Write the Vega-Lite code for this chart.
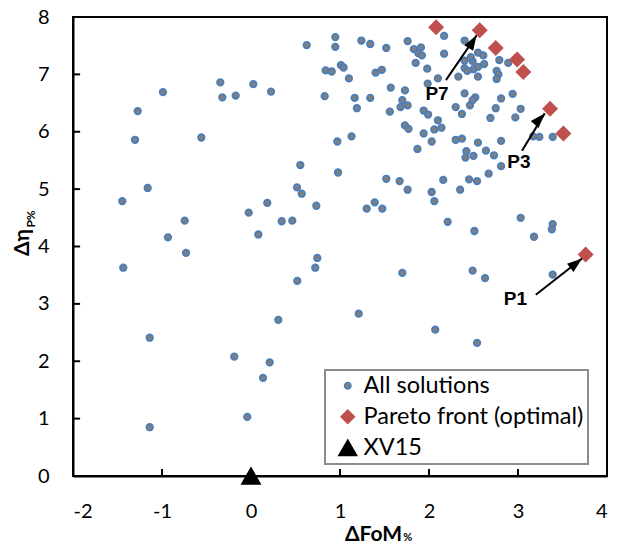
{
  "$schema": "https://vega.github.io/schema/vega-lite/v6.json",
  "width": 534,
  "height": 459,
  "autosize": "none",
  "padding": {"left": 73, "top": 17, "right": 11, "bottom": 68},
  "background": "white",
  "datasets": {
    "solutions": [
      {"series": "All solutions", "fom": 0.626, "eta": 7.51},
      {"series": "All solutions", "fom": 0.947, "eta": 7.65},
      {"series": "All solutions", "fom": 0.947, "eta": 7.48},
      {"series": "All solutions", "fom": 1.01, "eta": 7.16},
      {"series": "All solutions", "fom": -0.345, "eta": 6.86},
      {"series": "All solutions", "fom": -0.989, "eta": 6.69},
      {"series": "All solutions", "fom": 0.026, "eta": 6.83},
      {"series": "All solutions", "fom": -0.322, "eta": 6.6},
      {"series": "All solutions", "fom": -0.172, "eta": 6.63},
      {"series": "All solutions", "fom": 0.225, "eta": 6.7},
      {"series": "All solutions", "fom": 0.839, "eta": 7.07},
      {"series": "All solutions", "fom": 0.907, "eta": 7.05},
      {"series": "All solutions", "fom": 0.828, "eta": 6.62},
      {"series": "All solutions", "fom": -1.273, "eta": 6.36},
      {"series": "All solutions", "fom": -1.303, "eta": 5.86},
      {"series": "All solutions", "fom": -0.558, "eta": 5.9},
      {"series": "All solutions", "fom": 0.97, "eta": 5.83},
      {"series": "All solutions", "fom": 0.554, "eta": 5.42},
      {"series": "All solutions", "fom": 0.978, "eta": 5.29},
      {"series": "All solutions", "fom": -1.161, "eta": 5.02},
      {"series": "All solutions", "fom": 0.517, "eta": 5.03},
      {"series": "All solutions", "fom": 0.57, "eta": 4.92},
      {"series": "All solutions", "fom": -1.446, "eta": 4.79},
      {"series": "All solutions", "fom": 0.183, "eta": 4.76},
      {"series": "All solutions", "fom": 0.734, "eta": 4.71},
      {"series": "All solutions", "fom": -0.026, "eta": 4.59},
      {"series": "All solutions", "fom": 0.345, "eta": 4.44},
      {"series": "All solutions", "fom": 0.464, "eta": 4.45},
      {"series": "All solutions", "fom": -0.745, "eta": 4.45},
      {"series": "All solutions", "fom": 0.082, "eta": 4.21},
      {"series": "All solutions", "fom": -0.933, "eta": 4.16},
      {"series": "All solutions", "fom": -0.73, "eta": 3.89},
      {"series": "All solutions", "fom": -1.435, "eta": 3.63},
      {"series": "All solutions", "fom": 0.745, "eta": 3.8},
      {"series": "All solutions", "fom": 0.722, "eta": 3.63},
      {"series": "All solutions", "fom": 0.52, "eta": 3.4},
      {"series": "All solutions", "fom": 0.307, "eta": 2.72},
      {"series": "All solutions", "fom": -1.138, "eta": 2.41},
      {"series": "All solutions", "fom": -0.188, "eta": 2.08},
      {"series": "All solutions", "fom": 0.21, "eta": 1.98},
      {"series": "All solutions", "fom": 0.135, "eta": 1.71},
      {"series": "All solutions", "fom": -0.042, "eta": 1.03},
      {"series": "All solutions", "fom": -1.138, "eta": 0.85},
      {"series": "All solutions", "fom": 1.7, "eta": 3.54},
      {"series": "All solutions", "fom": 2.49, "eta": 3.58},
      {"series": "All solutions", "fom": 2.63, "eta": 3.45},
      {"series": "All solutions", "fom": 3.39, "eta": 3.51},
      {"series": "All solutions", "fom": 1.21, "eta": 2.83},
      {"series": "All solutions", "fom": 2.07, "eta": 2.55},
      {"series": "All solutions", "fom": 2.54, "eta": 2.32},
      {"series": "All solutions", "fom": 1.04, "eta": 7.12},
      {"series": "All solutions", "fom": 1.24, "eta": 7.59},
      {"series": "All solutions", "fom": 1.34, "eta": 7.53},
      {"series": "All solutions", "fom": 1.52, "eta": 7.46},
      {"series": "All solutions", "fom": 1.76, "eta": 7.58},
      {"series": "All solutions", "fom": 2.17, "eta": 7.67},
      {"series": "All solutions", "fom": 2.4, "eta": 7.59},
      {"series": "All solutions", "fom": 1.83, "eta": 7.44},
      {"series": "All solutions", "fom": 1.91, "eta": 7.47},
      {"series": "All solutions", "fom": 1.88, "eta": 7.37},
      {"series": "All solutions", "fom": 1.92, "eta": 7.33},
      {"series": "All solutions", "fom": 2.17, "eta": 7.36},
      {"series": "All solutions", "fom": 1.85, "eta": 7.2},
      {"series": "All solutions", "fom": 1.98, "eta": 7.1},
      {"series": "All solutions", "fom": 1.1, "eta": 6.93},
      {"series": "All solutions", "fom": 1.4, "eta": 7.03},
      {"series": "All solutions", "fom": 1.47, "eta": 7.08},
      {"series": "All solutions", "fom": 2.1, "eta": 6.93},
      {"series": "All solutions", "fom": 2.33, "eta": 6.96},
      {"series": "All solutions", "fom": 2.4, "eta": 7.24},
      {"series": "All solutions", "fom": 2.49, "eta": 7.23},
      {"series": "All solutions", "fom": 2.4, "eta": 7.11},
      {"series": "All solutions", "fom": 2.43, "eta": 7.06},
      {"series": "All solutions", "fom": 2.5, "eta": 7.09},
      {"series": "All solutions", "fom": 2.55, "eta": 7.13},
      {"series": "All solutions", "fom": 2.62, "eta": 7.18},
      {"series": "All solutions", "fom": 2.61, "eta": 7.33},
      {"series": "All solutions", "fom": 2.55, "eta": 7.38},
      {"series": "All solutions", "fom": 2.47, "eta": 7.3},
      {"series": "All solutions", "fom": 2.55, "eta": 6.96},
      {"series": "All solutions", "fom": 2.79, "eta": 7.25},
      {"series": "All solutions", "fom": 2.89, "eta": 7.2},
      {"series": "All solutions", "fom": 2.76, "eta": 7.06},
      {"series": "All solutions", "fom": 2.78, "eta": 7.0},
      {"series": "All solutions", "fom": 2.76, "eta": 6.92},
      {"series": "All solutions", "fom": 1.57, "eta": 6.77},
      {"series": "All solutions", "fom": 1.73, "eta": 6.72},
      {"series": "All solutions", "fom": 1.985, "eta": 6.84},
      {"series": "All solutions", "fom": 2.4, "eta": 6.67},
      {"series": "All solutions", "fom": 2.52, "eta": 6.6},
      {"series": "All solutions", "fom": 2.49, "eta": 6.55},
      {"series": "All solutions", "fom": 2.46, "eta": 6.46},
      {"series": "All solutions", "fom": 2.81, "eta": 6.58},
      {"series": "All solutions", "fom": 2.94, "eta": 6.66},
      {"series": "All solutions", "fom": 1.165, "eta": 6.59},
      {"series": "All solutions", "fom": 1.34, "eta": 6.59},
      {"series": "All solutions", "fom": 1.19, "eta": 6.41},
      {"series": "All solutions", "fom": 1.7, "eta": 6.55},
      {"series": "All solutions", "fom": 1.68, "eta": 6.43},
      {"series": "All solutions", "fom": 1.76, "eta": 6.46},
      {"series": "All solutions", "fom": 1.56, "eta": 6.35},
      {"series": "All solutions", "fom": 1.94, "eta": 6.37},
      {"series": "All solutions", "fom": 1.99, "eta": 6.3},
      {"series": "All solutions", "fom": 2.3, "eta": 6.43},
      {"series": "All solutions", "fom": 2.37, "eta": 6.31},
      {"series": "All solutions", "fom": 2.75, "eta": 6.41},
      {"series": "All solutions", "fom": 2.69, "eta": 6.24},
      {"series": "All solutions", "fom": 3.03, "eta": 6.4},
      {"series": "All solutions", "fom": 2.97, "eta": 6.25},
      {"series": "All solutions", "fom": 2.1, "eta": 6.2},
      {"series": "All solutions", "fom": 2.06, "eta": 6.04},
      {"series": "All solutions", "fom": 2.14, "eta": 6.07},
      {"series": "All solutions", "fom": 1.73, "eta": 6.11},
      {"series": "All solutions", "fom": 1.77, "eta": 6.05},
      {"series": "All solutions", "fom": 1.94, "eta": 5.97},
      {"series": "All solutions", "fom": 2.03, "eta": 5.83},
      {"series": "All solutions", "fom": 1.87, "eta": 5.7},
      {"series": "All solutions", "fom": 1.13, "eta": 5.92},
      {"series": "All solutions", "fom": 2.3, "eta": 5.86},
      {"series": "All solutions", "fom": 2.37, "eta": 5.88},
      {"series": "All solutions", "fom": 2.55, "eta": 5.81},
      {"series": "All solutions", "fom": 2.81, "eta": 5.84},
      {"series": "All solutions", "fom": 3.17, "eta": 5.92},
      {"series": "All solutions", "fom": 3.24, "eta": 5.91},
      {"series": "All solutions", "fom": 3.39, "eta": 5.91},
      {"series": "All solutions", "fom": 2.42, "eta": 5.66},
      {"series": "All solutions", "fom": 2.41, "eta": 5.55},
      {"series": "All solutions", "fom": 2.5, "eta": 5.58},
      {"series": "All solutions", "fom": 2.64, "eta": 5.67},
      {"series": "All solutions", "fom": 2.73, "eta": 5.59},
      {"series": "All solutions", "fom": 2.81, "eta": 5.4},
      {"series": "All solutions", "fom": 2.67, "eta": 5.27},
      {"series": "All solutions", "fom": 1.52, "eta": 5.18},
      {"series": "All solutions", "fom": 1.67, "eta": 5.14},
      {"series": "All solutions", "fom": 2.16, "eta": 5.16},
      {"series": "All solutions", "fom": 2.45, "eta": 5.17},
      {"series": "All solutions", "fom": 2.54, "eta": 5.14},
      {"series": "All solutions", "fom": 1.76, "eta": 4.99},
      {"series": "All solutions", "fom": 2.03, "eta": 4.95},
      {"series": "All solutions", "fom": 2.35, "eta": 4.99},
      {"series": "All solutions", "fom": 2.06, "eta": 4.79},
      {"series": "All solutions", "fom": 1.39, "eta": 4.77},
      {"series": "All solutions", "fom": 1.3, "eta": 4.66},
      {"series": "All solutions", "fom": 1.475, "eta": 4.66},
      {"series": "All solutions", "fom": 2.21, "eta": 4.43},
      {"series": "All solutions", "fom": 2.51, "eta": 4.27},
      {"series": "All solutions", "fom": 3.03, "eta": 4.5},
      {"series": "All solutions", "fom": 3.39, "eta": 4.39},
      {"series": "All solutions", "fom": 3.38, "eta": 4.3},
      {"series": "All solutions", "fom": 3.18, "eta": 4.17},
      {"series": "Pareto front (optimal)", "fom": 2.08, "eta": 7.82},
      {"series": "Pareto front (optimal)", "fom": 2.57, "eta": 7.77},
      {"series": "Pareto front (optimal)", "fom": 2.75, "eta": 7.46},
      {"series": "Pareto front (optimal)", "fom": 2.99, "eta": 7.26},
      {"series": "Pareto front (optimal)", "fom": 3.06, "eta": 7.04},
      {"series": "Pareto front (optimal)", "fom": 3.36, "eta": 6.4},
      {"series": "Pareto front (optimal)", "fom": 3.51, "eta": 5.97},
      {"series": "Pareto front (optimal)", "fom": 3.76, "eta": 3.86},
      {"series": "XV15", "fom": 0, "eta": 0}
    ],
    "callouts": [
      {"label": "P7", "tailFom": 2.19, "tailEta": 6.9, "headFom": 2.535, "headEta": 7.68, "textFom": 2.09, "textEta": 6.65},
      {"label": "P3", "tailFom": 3.045, "tailEta": 5.67, "headFom": 3.3, "headEta": 6.32, "textFom": 3.01, "textEta": 5.48},
      {"label": "P1", "tailFom": 3.2, "tailEta": 3.16, "headFom": 3.72, "headEta": 3.79, "textFom": 2.97, "textEta": 3.08}
    ],
    "fomTicks": [{"fom": -1}, {"fom": 0}, {"fom": 1}, {"fom": 2}, {"fom": 3}],
    "etaTicks": [{"eta": 1}, {"eta": 2}, {"eta": 3}, {"eta": 4}, {"eta": 5}, {"eta": 6}, {"eta": 7}]
  },
  "layer": [
    {
      "data": {"name": "fomTicks"},
      "mark": {"type": "rule", "color": "black", "strokeWidth": 2},
      "encoding": {
        "x": {"field": "fom", "type": "quantitative"},
        "y": {"datum": 0},
        "y2": {"datum": 0.12}
      }
    },
    {
      "data": {"name": "etaTicks"},
      "mark": {"type": "rule", "color": "black", "strokeWidth": 2},
      "encoding": {
        "y": {"field": "eta", "type": "quantitative"},
        "x": {"datum": -2},
        "x2": {"datum": -1.92}
      }
    },
    {
      "data": {"name": "solutions"},
      "mark": {"type": "point", "filled": true, "strokeWidth": 1.8, "opacity": 1},
      "encoding": {
        "x": {"field": "fom", "type": "quantitative"},
        "y": {"field": "eta", "type": "quantitative"},
        "shape": {
          "field": "series", "type": "nominal",
          "scale": {"domain": ["All solutions", "Pareto front (optimal)", "XV15"], "range": ["circle", "diamond", "triangle-up"]},
          "legend": {"encode": {"symbols": {"update": {"size": {"signal": "datum.value === 'All solutions' ? 36 : 170"}}}}}
        },
        "fill": {
          "field": "series", "type": "nominal",
          "scale": {"domain": ["All solutions", "Pareto front (optimal)", "XV15"], "range": ["#7F7F7F", "#C0504D", "#000000"]},
          "legend": {"encode": {"symbols": {"update": {"size": {"signal": "datum.value === 'All solutions' ? 36 : 170"}}}}}
        },
        "stroke": {
          "field": "series", "type": "nominal",
          "scale": {"domain": ["All solutions", "Pareto front (optimal)", "XV15"], "range": ["#4A7EBB", "#C0504D", "#000000"]},
          "legend": {"encode": {"symbols": {"update": {"size": {"signal": "datum.value === 'All solutions' ? 36 : 170"}}}}}
        },
        "size": {
          "field": "series", "type": "nominal",
          "scale": {"domain": ["All solutions", "Pareto front (optimal)", "XV15"], "range": [42, 320, 360]},
          "legend": {"encode": {"symbols": {"update": {"size": {"signal": "datum.value === 'All solutions' ? 36 : 170"}}}}}
        }
      }
    },
    {
      "data": {"name": "callouts"},
      "mark": {"type": "rule", "color": "black", "strokeWidth": 2},
      "encoding": {
        "x": {"field": "tailFom", "type": "quantitative"},
        "y": {"field": "tailEta", "type": "quantitative"},
        "x2": {"field": "headFom"},
        "y2": {"field": "headEta"}
      }
    },
    {
      "data": {"name": "callouts"},
      "mark": {"type": "point", "filled": true, "color": "black", "opacity": 1, "shape": "M0,0L-0.7,2L0.7,2Z", "size": 225},
      "encoding": {
        "x": {"field": "headFom", "type": "quantitative"},
        "y": {"field": "headEta", "type": "quantitative"},
        "angle": {
          "field": "label", "type": "nominal",
          "scale": {"domain": ["P1", "P3", "P7"], "range": [52, 32, 34]},
          "legend": null
        }
      }
    },
    {
      "data": {"name": "callouts"},
      "mark": {"type": "text", "font": "Liberation Sans", "fontWeight": "bold", "fontSize": 19, "color": "black", "baseline": "middle", "align": "center"},
      "encoding": {
        "x": {"field": "textFom", "type": "quantitative"},
        "y": {"field": "textEta", "type": "quantitative"},
        "text": {"field": "label"}
      }
    },
    {
      "data": {"values": [{"sub": "%"}]},
      "mark": {"type": "text", "font": "Lato", "fontWeight": "bold", "fontSize": 11, "color": "black", "align": "left", "baseline": "alphabetic"},
      "encoding": {
        "x": {"datum": 1.71},
        "y": {"datum": -1.13},
        "text": {"field": "sub"}
      }
    },
    {
      "data": {"values": [{"sub": "P%"}]},
      "mark": {"type": "text", "font": "Lato", "fontWeight": "bold", "fontSize": 12, "color": "black", "align": "left", "baseline": "alphabetic", "angle": 270},
      "encoding": {
        "x": {"datum": -2.43},
        "y": {"datum": 4.33},
        "text": {"field": "sub"}
      }
    }
  ],
  "encoding": {
    "x": {
      "type": "quantitative",
      "scale": {"domain": [-2, 4], "nice": false, "zero": false},
      "axis": {
        "title": "ΔFoM",
        "values": [-2, -1, 0, 1, 2, 3, 4],
        "labelExpr": "'' + datum.value",
        "labelPadding": 25,
        "titleX": 300, "titleY": 64, "titleBaseline": "alphabetic"
      }
    },
    "y": {
      "type": "quantitative",
      "scale": {"domain": [0, 8], "nice": false, "zero": false},
      "axis": {
        "title": "Δη",
        "values": [0, 1, 2, 3, 4, 5, 6, 7, 8],
        "labelExpr": "'' + datum.value",
        "labelPadding": 24,
        "titleX": -45, "titleY": 225, "titleBaseline": "alphabetic"
      }
    }
  },
  "config": {
    "view": {"stroke": "black", "strokeWidth": 2},
    "axis": {
      "grid": false,
      "domain": true,
      "domainColor": "black",
      "domainWidth": 2,
      "ticks": false,
      "labelFont": "Lato",
      "labelFontSize": 20,
      "labelColor": "black",
      "titleFont": "Lato",
      "titleFontWeight": "bold",
      "titleFontSize": 21,
      "titleColor": "black"
    },
    "legend": {
      "orient": "none",
      "legendX": 252,
      "legendY": 353,
      "title": null,
      "strokeColor": "#8C8C8C",
      "strokeWidth": 2,
      "fillColor": "white",
      "padding": 4,
      "labelFont": "Lato",
      "labelFontSize": 23.5,
      "labelColor": "black",
      "labelLimit": 400,
      "labelOffset": 4,
      "symbolOffset": 7,
      "rowPadding": 6,
      "symbolStrokeWidth": 1.5
    }
  }
}
